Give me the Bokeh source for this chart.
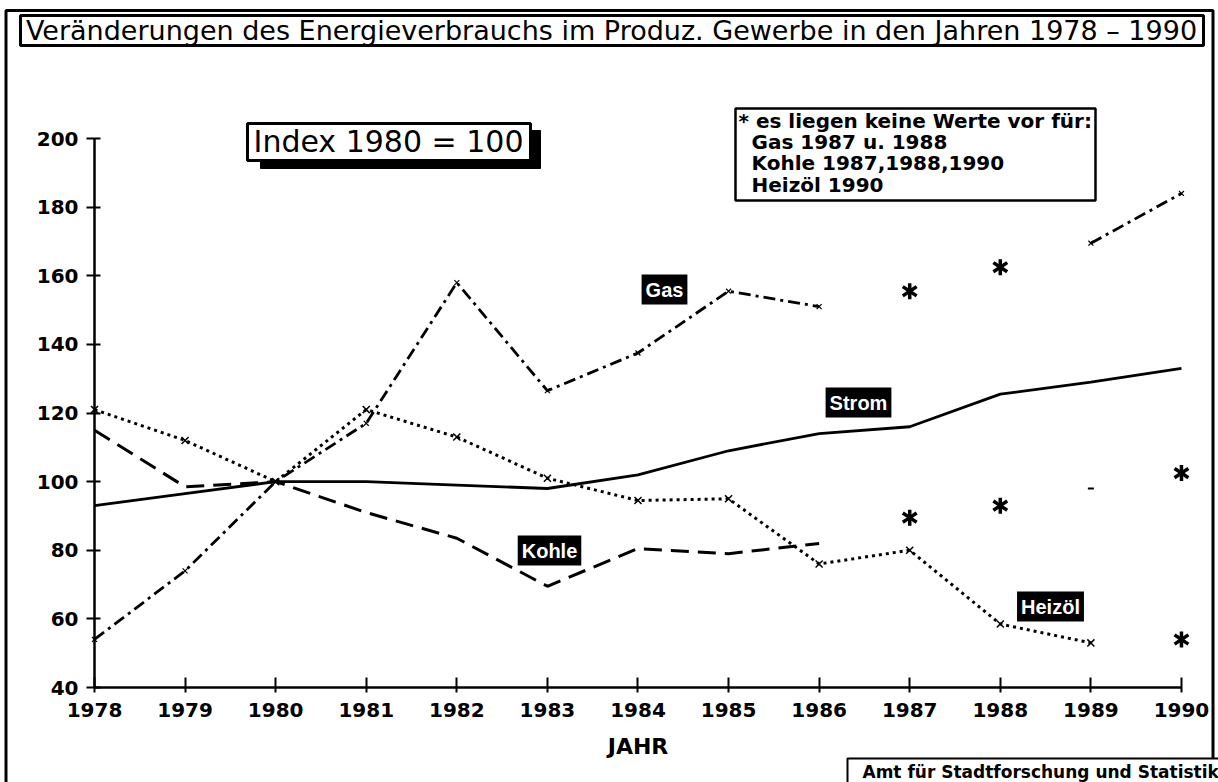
import math
from bokeh.plotting import figure
from bokeh.models import Range1d, FixedTicker, Label, BoxAnnotation
from bokeh.embed import file_html
from bokeh.resources import INLINE

nan = float("nan")

# ---------------- data ----------------
years = [1978, 1979, 1980, 1981, 1982, 1983, 1984, 1985, 1986, 1987, 1988, 1989, 1990]
year_labels = ["1978", "1979", "1980", "1981", "1982", "1983", "1984",
               "1985", "1986", "1987", "1988", "1989", "1990"]
y_ticks = [40, 60, 80, 100, 120, 140, 160, 180, 200]

strom = [93, 96.5, 100, 100, 99, 98, 102, 109, 114, 116, 125.5, 129, 133]
gas = [54, 74, 100, 117, 158, 126.5, 137.5, 155.5, 151, nan, nan, 169.5, 184]
kohle = [115, 98.5, 100, 91, 83.5, 69.5, 80.5, 79, 82, nan, nan, 98, nan]
heizoel = [121, 112, 100, 121, 113, 101, 94.5, 95, 76, 80, 58.5, 53, nan]

# estimated values (asterisks) where no data exist
gas_est_years = [1987, 1988]
gas_est = [155.5, 162.5]
kohle_est_years = [1987, 1988, 1990]
kohle_est = [89.5, 93, 102.5]
heizoel_est_years = [1990]
heizoel_est = [54]

title_text = "Veränderungen des Energieverbrauchs im Produz. Gewerbe in den Jahren 1978 \u2013 1990"
index_text = "Index 1980 = 100"
note_lines = ["* es liegen keine Werte vor für:", "Gas 1987 u. 1988",
              "Kohle 1987,1988,1990", "Heizöl 1990"]
footer_text = "Amt für Stadtforschung und Statistik"

# canvas pixel -> data helpers (for annotation placement only)
def X(px):
    return 1978 + (px - 94) / 90.58

def Y(py):
    return 40 + (687 - py) / 3.431

# ---------------- figure ----------------
W, H = 1218, 782
p = figure(width=W, height=H,
           x_range=Range1d(X(0), X(W)), y_range=Range1d(Y(H), Y(0)),
           output_backend="svg", toolbar_location=None,
           min_border_left=0, min_border_right=0, min_border_top=0, min_border_bottom=0)
p.outline_line_color = None
p.xgrid.visible = False
p.ygrid.visible = False
p.background_fill_color = "white"
p.border_fill_color = "white"

FONT = "DejaVu Sans"
LFONT = "Liberation Sans"

# axes (drawn at fixed positions inside the canvas)
xa = p.xaxis[0]
xa.fixed_location = 40
xa.bounds = (1978, 1990)
xa.ticker = FixedTicker(ticks=years)
xa.major_label_overrides = {y: s for y, s in zip(years, year_labels)}
xa.minor_tick_line_color = None
xa.major_tick_in = 10
xa.major_tick_out = 5
xa.axis_line_width = 2.5
xa.major_tick_line_width = 2
xa.major_label_text_font = FONT
xa.major_label_text_font_style = "bold"
xa.major_label_text_font_size = "20px"
xa.major_label_text_color = "black"
xa.major_label_standoff = 10
xa.axis_label = "JAHR"
xa.axis_label_text_font = FONT
xa.axis_label_text_font_style = "bold"
xa.axis_label_text_font_size = "22px"
xa.axis_label_text_color = "black"
xa.axis_label_standoff = 14

ya = p.yaxis[0]
ya.fixed_location = 1978
ya.bounds = (40, 200)
ya.ticker = FixedTicker(ticks=y_ticks)
ya.minor_tick_line_color = None
ya.major_tick_in = 6
ya.major_tick_out = 8
ya.axis_line_width = 2.5
ya.major_tick_line_width = 2
ya.major_label_text_font = FONT
ya.major_label_text_font_style = "bold"
ya.major_label_text_font_size = "20px"
ya.major_label_text_color = "black"
ya.major_label_standoff = 8

# ---------------- outer frame ----------------
p.add_layout(BoxAnnotation(left=X(5.5), right=X(1212.5), top=Y(10), bottom=Y(800),
                           fill_alpha=0.0, line_color="black", line_alpha=1.0, line_width=3,
                           level="underlay"))

# ---------------- series ----------------
p.line(years, strom, line_color="black", line_width=2.8)
p.line(years, gas, line_color="black", line_width=2.8, line_dash="12 5 3 5")
p.line(years, kohle, line_color="black", line_width=3, line_dash="18 9")
p.line(years, heizoel, line_color="black", line_width=3, line_dash="3 4")
p.scatter(years, heizoel, marker="x", size=10, line_color="black", line_width=1.5)
p.scatter(years, gas, marker="x", size=7, line_color="black", line_width=1.2)
p.scatter([years[11]], [kohle[11]], marker="dash", size=6, line_color="black", line_width=2)

for ex, ev in ((gas_est_years, gas_est), (kohle_est_years, kohle_est),
               (heizoel_est_years, heizoel_est)):
    for ang in (0, math.pi):
        p.scatter(ex, ev, marker="y", size=16, angle=ang, line_color="black", line_width=3.5)

# ---------------- overlay boxes & texts ----------------
def obox(l, t, r, b, lw=3, fill="white", line="black"):
    p.add_layout(BoxAnnotation(left=X(l), right=X(r), top=Y(t), bottom=Y(b),
                               fill_color=fill, fill_alpha=1.0,
                               line_color=line, line_width=lw, line_alpha=1.0))

def label(px, py, text, size, font=FONT, bold=True, align="center", color="black", bg=None, pad=0):
    kw = {}
    if bg is not None:
        kw = dict(background_fill_color=bg, background_fill_alpha=1.0)
    p.add_layout(Label(x=X(px), y=Y(py), text=text, text_align=align, text_baseline="middle",
                       text_font=font, text_font_size=size,
                       text_font_style="bold" if bold else "normal",
                       text_color=color, padding=pad, **kw))

# title
obox(20, 15, 1203, 45, lw=3)
label(611, 30, title_text, "27px", bold=False)
# index box with shadow
obox(260, 130, 540, 168, lw=1, fill="black")
obox(247, 123, 530, 160, lw=3)
label(388, 141, index_text, "30px", bold=False)
# note box
obox(735, 108, 1095, 200, lw=2.5)
label(738, 120, note_lines[0], "20px", align="left")
label(751, 141, note_lines[1], "20px", align="left")
label(751, 162, note_lines[2], "20px", align="left")
label(751, 184, note_lines[3], "20px", align="left")
# series labels
label(664, 289, "Gas", "20px", font=LFONT, color="white", bg="black", pad=4)
label(858, 402, "Strom", "20px", font=LFONT, color="white", bg="black", pad=4)
label(549, 550, "Kohle", "20px", font=LFONT, color="white", bg="black", pad=4)
label(1050, 606, "Heizöl", "20px", font=LFONT, color="white", bg="black", pad=4)
# footer
obox(847, 758, 1240, 800, lw=2)
label(862, 771, footer_text, "17px", align="left")

open("out.html", "w").write(file_html(p, INLINE))
